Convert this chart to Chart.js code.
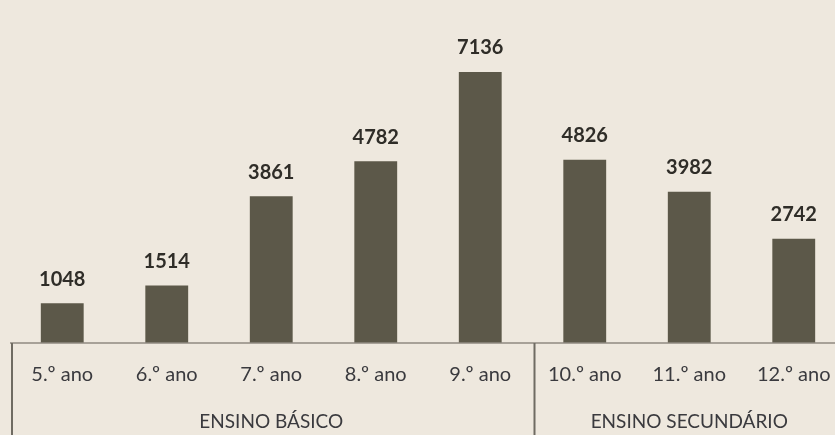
<!DOCTYPE html>
<html lang="pt">
<head>
    <meta charset="utf-8" />
    <title>Alunos por ano de escolaridade</title>
    <script src="https://cdn.jsdelivr.net/npm/chart.js"></script>
    <style>
        html, body { margin: 0; padding: 0; overflow: hidden; background: #eee8de; }
        #wrap { width: 860px; height: 435px; position: relative; }
    </style>
</head>
<body>
    <div id="wrap"><canvas id="chart"></canvas></div>

    <script>
        const anos = ['5.º ano', '6.º ano', '7.º ano', '8.º ano', '9.º ano', '10.º ano', '11.º ano', '12.º ano'];
        const alunos = [1048, 1514, 3861, 4782, 7136, 4826, 3982, 2742];
        const grupos = ['ENSINO BÁSICO', 'ENSINO SECUNDÁRIO'];
        const grupoFim = [4, 7]; // last index of each group

        const FONT = 'Lato, "Open Sans", sans-serif';

        const labelsPlugin = {
            id: 'labelsPlugin',
            afterDatasetsDraw(chart) {
                const ctx = chart.ctx;
                const x = chart.scales.x;
                const area = chart.chartArea;
                const meta = chart.getDatasetMeta(0);
                const step = x.getPixelForValue(1) - x.getPixelForValue(0);

                ctx.save();
                // value labels
                ctx.fillStyle = '#2f2d28';
                ctx.font = 'bold 20px ' + FONT;
                ctx.textAlign = 'center';
                ctx.textBaseline = 'middle';
                meta.data.forEach((bar, i) => {
                    ctx.fillText(alunos[i], bar.x, bar.y - 24);
                });

                // axis lines
                ctx.strokeStyle = '#8f8a80';
                ctx.lineWidth = 1.5;
                ctx.beginPath();
                ctx.moveTo(area.left, area.bottom);
                ctx.lineTo(area.right, area.bottom);
                ctx.stroke();

                ctx.strokeStyle = '#6f6b62';
                ctx.lineWidth = 2;
                let start = -1;
                grupoFim.forEach((fim) => {
                    const xl = x.getPixelForValue(start + 1) - step / 2 + 2;
                    ctx.beginPath();
                    ctx.moveTo(xl, area.bottom);
                    ctx.lineTo(xl, chart.height);
                    ctx.stroke();
                    start = fim;
                });

                // year labels
                ctx.fillStyle = '#3a3a3e';
                ctx.font = '20px ' + FONT;
                anos.forEach((a, i) => {
                    ctx.fillText(a, x.getPixelForValue(i), area.bottom + 32);
                });

                // group labels
                ctx.font = '19px ' + FONT;
                start = 0;
                grupos.forEach((g, k) => {
                    const fim = grupoFim[k];
                    const cx = (x.getPixelForValue(start) + x.getPixelForValue(fim)) / 2;
                    ctx.fillText(g, cx, area.bottom + 79);
                    start = fim + 1;
                });
                ctx.restore();
            }
        };

        new Chart(document.getElementById('chart'), {
            type: 'bar',
            data: {
                labels: anos,
                datasets: [{
                    data: alunos,
                    backgroundColor: '#5c5849',
                    categoryPercentage: 1,
                    barPercentage: 0.41
                }]
            },
            options: {
                responsive: true,
                maintainAspectRatio: false,
                animation: false,
                layout: { padding: { left: 10, right: 14, top: 0, bottom: 92 } },
                plugins: { legend: { display: false }, tooltip: { enabled: false } },
                scales: {
                    x: { display: false },
                    y: { display: false, min: 0, max: 9030 }
                }
            },
            plugins: [labelsPlugin]
        });
    </script>
</body>
</html>
